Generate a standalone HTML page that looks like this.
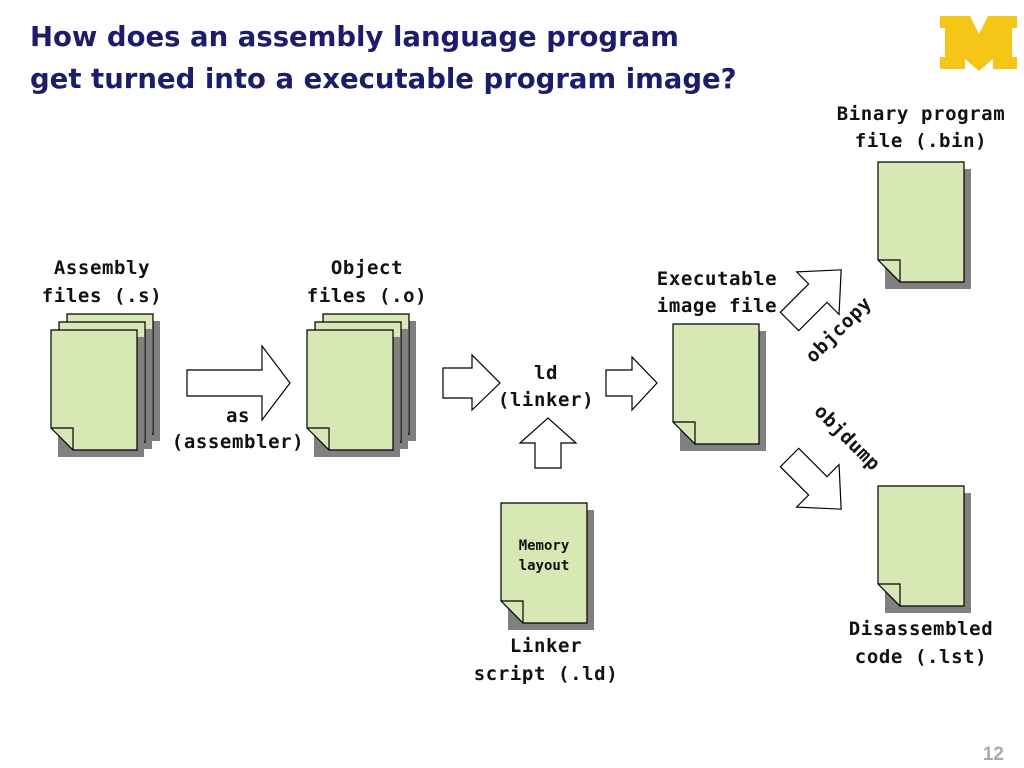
<!DOCTYPE html>
<html><head><meta charset="utf-8"><style>
body{margin:0;width:1024px;height:768px;background:#fff;overflow:hidden;position:relative}
.t{position:absolute;left:30px;top:16px;font:bold 27.5px "DejaVu Sans","Liberation Sans",sans-serif;color:#1c1c6c;line-height:42px;white-space:nowrap}
svg{position:absolute;left:0;top:0}
text{font-family:"DejaVu Sans Mono","Liberation Mono",monospace;font-weight:bold;font-size:19px;letter-spacing:0.6px;fill:#111}
</style></head><body>
<div class="t">How does an assembly language program<br>get turned into a executable program image?</div>
<svg width="1024" height="768" viewBox="0 0 1024 768">
<defs>
<g id="doc">
<rect x="7" y="7" width="86" height="120" fill="#808080"/>
<path d="M0 0H86V120H22L0 98Z" fill="#d8e8b4" stroke="#000" stroke-width="1.2"/>
<path d="M0 98H22V120" fill="none" stroke="#000" stroke-width="1.2"/>
</g>
</defs>
<path d="M940 16H970L979 34 988 16H1017V28H1012V57H1017V69H993V59L979 71 965 59V69H940V57H945V28H940Z" fill="#f5c518"/>
<use href="#doc" x="67" y="314"/><use href="#doc" x="59" y="322"/><use href="#doc" x="51" y="330"/>
<use href="#doc" x="323" y="314"/><use href="#doc" x="315" y="322"/><use href="#doc" x="307" y="330"/>
<use href="#doc" x="673" y="324"/>
<use href="#doc" x="878" y="162"/>
<use href="#doc" x="878" y="486"/>
<use href="#doc" x="501" y="503"/>
<g fill="#fff" stroke="#000" stroke-width="1.2">
<path d="M187 370H262V346L290 383 262 420V396H187Z"/>
<path d="M443 368H472V355L500 383 472 410V398H443Z"/>
<path d="M606 370H632V357L657 383 632 410V396H606Z"/>
<path d="M535 468V443H520L548 418 576 443H561V468Z"/>
<path transform="translate(815,296) rotate(-45)" d="M-36 -13H4V-30L37 0 4 30V13H-36Z"/>
<path transform="translate(815,483) rotate(45)" d="M-36 -13H4V-30L37 0 4 30V13H-36Z"/>
</g>
<g text-anchor="middle">
<text x="102" y="274">Assembly</text><text x="102" y="302">files (.s)</text>
<text x="367" y="274">Object</text><text x="367" y="302">files (.o)</text>
<text x="238" y="422">as</text><text x="238" y="448">(assembler)</text>
<text x="546" y="379">ld</text><text x="546" y="406">(linker)</text>
<text x="717" y="285">Executable</text><text x="717" y="312">image file</text>
<text x="921" y="120">Binary program</text><text x="921" y="147">file (.bin)</text>
<text x="921" y="635">Disassembled</text><text x="921" y="663">code (.lst)</text>
<text x="546" y="652">Linker</text><text x="546" y="680">script (.ld)</text>
<text x="544" y="550" style="font-size:14px;letter-spacing:0">Memory</text><text x="544" y="570" style="font-size:14px;letter-spacing:0">layout</text>
<text transform="translate(843,334) rotate(-45)">objcopy</text>
<text transform="translate(843,442) rotate(45)">objdump</text>
</g>
<text x="1004" y="760" text-anchor="end" style="font-family:'Liberation Sans',sans-serif;font-size:19px;letter-spacing:0;fill:#aaa">12</text>
</svg>
</body></html>
